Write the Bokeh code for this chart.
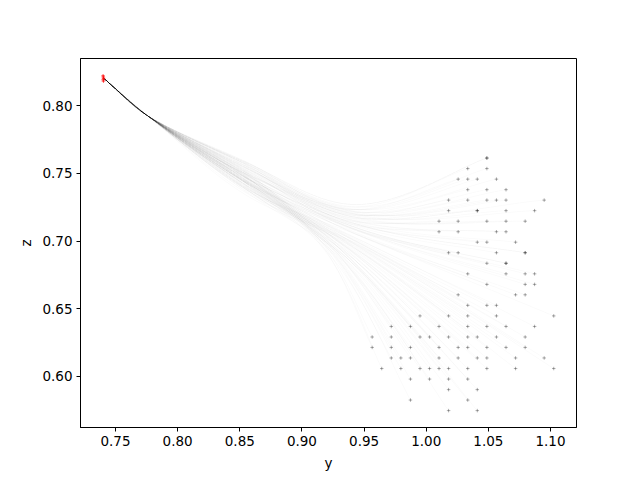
import numpy as np
from bokeh.plotting import figure
from bokeh.models import Range1d, FixedTicker, PrintfTickFormatter
from bokeh.embed import file_html
from bokeh.resources import INLINE

# grid values of the end points
grid_y = [0.9565, 0.9642, 0.9719, 0.9796, 0.9873, 0.9950, 1.0027, 1.0103, 1.0180, 1.0257,
          1.0334, 1.0411, 1.0488, 1.0565, 1.0642, 1.0719, 1.0796, 1.0872, 1.0949, 1.1026]
grid_z = [0.7614, 0.7536, 0.7458, 0.7380, 0.7303, 0.7225, 0.7147, 0.7069, 0.6992, 0.6914,
          0.6836, 0.6758, 0.6680, 0.6603, 0.6525, 0.6447, 0.6369, 0.6291, 0.6214, 0.6136,
          0.6058, 0.5980, 0.5902, 0.5825, 0.5747]

# columns occupied in each row (row index -> column indices)
end_rows = {
    0: [12, 12], 1: [10, 12], 2: [9, 10, 11, 13], 3: [10, 12, 14],
    4: [8, 10, 12, 13, 14, 18], 5: [8, 11, 11, 14, 17], 6: [7, 9, 12, 14, 16],
    7: [7, 9, 13, 14], 8: [11, 12, 15], 9: [8, 9, 13, 16, 16], 10: [12, 14, 14],
    11: [10, 14, 16, 17], 12: [12, 16, 17], 13: [9, 15, 16], 14: [10, 12, 13],
    15: [5, 8, 10, 13, 19], 16: [2, 4, 7, 10, 12, 14, 17],
    17: [0, 2, 5, 6, 8, 10, 11, 13, 16], 18: [0, 2, 4, 7, 9, 10, 12, 14, 16],
    19: [2, 3, 4, 7, 9, 11, 12, 15, 18], 20: [1, 3, 5, 6, 7, 8, 10, 12, 15, 19],
    21: [4, 6, 8, 10], 22: [8, 11], 23: [4, 10], 24: [8, 11],
}

start_y = 0.7403
start_z = 0.8205
red_y = [0.7400, 0.7402, 0.7404, 0.7401, 0.7403]
red_z = [0.8222, 0.8213, 0.8203, 0.8193, 0.8183]

# shared way points of the path bundle
knot1 = (0.776, 0.7925)
knot2 = (0.855, 0.749)
pinch = (0.935, 0.707)

end_y = []
end_z = []
for r, cols in end_rows.items():
    for c in cols:
        end_y.append(grid_y[c])
        end_z.append(grid_z[r])


def unit(v):
    return v / np.hypot(v[0], v[1])


def hermite(p0, p1, m0, m1, n=30):
    t = np.linspace(0, 1, n)[:, None]
    h00 = 2 * t ** 3 - 3 * t ** 2 + 1
    h10 = t ** 3 - 2 * t ** 2 + t
    h01 = -2 * t ** 3 + 3 * t ** 2
    h11 = t ** 3 - t ** 2
    return h00 * p0 + h10 * m0 + h01 * p1 + h11 * m1


xs, ys = [], []
for ey, ez in zip(end_y, end_z):
    K = [np.array([start_y, start_z]),
         np.array(knot1),
         np.array([knot2[0], knot2[1] + 0.12 * (ez - 0.67) - 0.1 * (ey - 1.03)]),
         np.array([pinch[0] + 0.25 * (ey - 1.03), pinch[1] + 0.22 * (ez - 0.67)]),
         np.array([ey, ez])]
    T = [unit(K[1] - K[0]),
         unit(K[2] - K[0]),
         unit(K[3] - K[1]),
         unit(1.2 * unit(K[3] - K[2]) + unit(K[4] - K[3])),
         unit(K[4] - K[3])]
    pts = [K[0][None, :]]
    for i in range(4):
        d = np.hypot(*(K[i + 1] - K[i]))
        seg = hermite(K[i], K[i + 1], T[i] * d, T[i + 1] * d * (0.7 if i == 3 else 1.0))
        pts.append(seg[1:])
    pts = np.vstack(pts)
    xs.append(pts[:, 0].tolist())
    ys.append(pts[:, 1].tolist())

p = figure(width=640, height=480, output_backend="svg", toolbar_location=None,
           x_range=Range1d(0.72184, 1.12091), y_range=Range1d(0.56221, 0.83498),
           min_border_left=80, min_border_right=64, min_border_top=58, min_border_bottom=53)

p.multi_line(xs, ys, line_color="black", line_alpha=0.05, line_width=0.4)
p.scatter(end_y, end_z, marker="cross", size=3.5, line_color="black", line_alpha=0.4, line_width=0.8)
p.scatter(red_y, red_z, marker="cross", size=3.5, line_color="red", line_alpha=0.7, line_width=1)

p.xgrid.visible = False
p.ygrid.visible = False
p.outline_line_color = "black"
p.outline_line_alpha = 1
p.outline_line_width = 1
p.background_fill_color = "white"
p.border_fill_color = "white"

for ax, ticks in ((p.xaxis, [0.75, 0.80, 0.85, 0.90, 0.95, 1.00, 1.05, 1.10]),
                  (p.yaxis, [0.60, 0.65, 0.70, 0.75, 0.80])):
    ax.ticker = FixedTicker(ticks=ticks)
    ax.formatter = PrintfTickFormatter(format="%.2f")
    ax.minor_tick_line_color = None
    ax.major_tick_in = 0
    ax.major_tick_out = 4
    ax.major_tick_line_color = "black"
    ax.axis_line_color = "black"
    ax.major_label_text_font = "DejaVu Sans"
    ax.major_label_text_font_size = "13.5px"
    ax.major_label_text_color = "black"
    ax.axis_label_text_font = "DejaVu Sans"
    ax.axis_label_text_font_size = "13.5px"
    ax.axis_label_text_font_style = "normal"
    ax.axis_label_text_color = "black"

p.xaxis.axis_label = "y"
p.yaxis.axis_label = "z"
p.xaxis.major_label_standoff = 4
p.yaxis.major_label_standoff = 4
p.xaxis.axis_label_standoff = 6
p.yaxis.axis_label_standoff = 5

open("out.html", "w").write(file_html(p, INLINE))
